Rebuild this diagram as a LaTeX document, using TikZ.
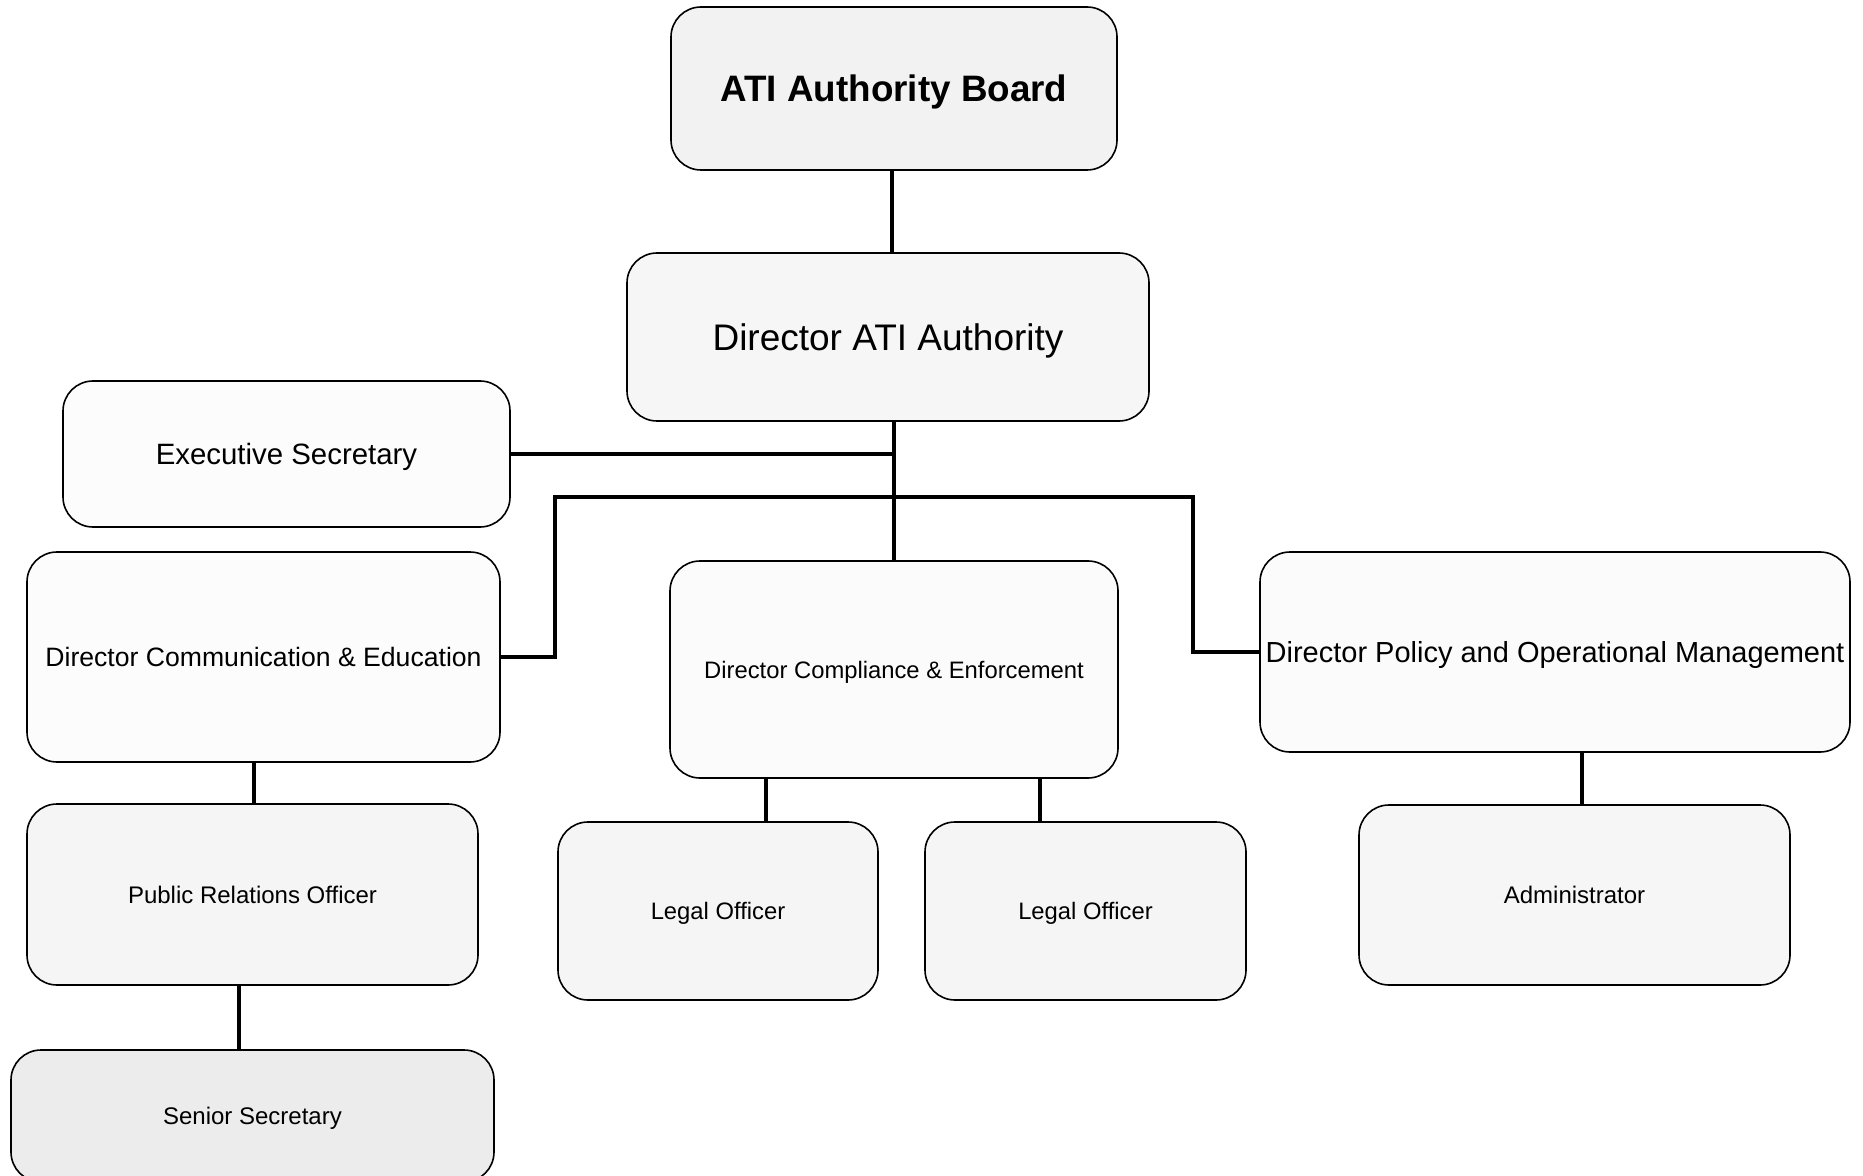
\documentclass[tikz,border=0pt]{standalone}
\usepackage{fontspec}
\setmainfont{Liberation Sans}
\usetikzlibrary{positioning}

\tikzstyle{post}=[draw, line width=0.8pt, rounded corners=15pt, inner sep=1pt, text depth=0pt, align=center]
\tikzstyle{link}=[draw, line width=2pt, -]
\newcommand{\orgunit}{0.5pt}

\begin{document}
\begin{tikzpicture}[x=\orgunit, y=\orgunit]
    \useasboundingbox (0,0) rectangle (1863,-1176);
    % First we draw the posts
    \foreach \pos/\name/\bw/\bh/\fsize/\tone/\txt in {
        {(894,-88.5)/board/223/81.5/18.4/10/\textbf{ATI Authority Board}},
        {(888,-337)/dir/261/84/18.5/7/Director ATI Authority},
        {(286.5,-454)/exec/223.5/73/14.7/2/Executive Secretary},
        {(263.5,-657)/comm/236.5/105/13.3/2/Director Communication \& Education},
        {(894,-669.5)/comp/224/108.5/11.9/3/Director Compliance \& Enforcement},
        {(1555,-652)/policy/295/100/14.5/3/Director Policy and Operational Management},
        {(252.5,-894.5)/pro/225.5/90.5/12/8/Public Relations Officer},
        {(718,-911)/legala/160/89/11.9/8/Legal Officer},
        {(1085.5,-911)/legalb/160.5/89/11.9/8/Legal Officer},
        {(1574.5,-895)/admin/215.5/90/12/7/Administrator},
        {(252.5,-1116)/senior/241.5/66/12/15/Senior Secretary}}
        \node[post, fill=gray!\tone, minimum width=\bw pt, minimum height=\bh pt,
              font=\fontsize{\fsize}{\fsize}\selectfont] (\name) at \pos {\txt};
    % Then the reporting lines
    \foreach \source/\dest/\off in {board/dir/2, dir/comp/0, comm/pro/0.75, policy/admin/3.75}
        \path[link] ([xshift=\off pt]\dest.north |- \source.south) -- ([xshift=\off pt]\dest.north);
    \path[link] (exec.east) -- (exec.east -| comp.north);
    \coordinate (busl) at (555,-497);
    \coordinate (busr) at (1193,-497);
    \path[link] (comm.east) -| (busl) -- (busr) |- (policy.west);
    \path[link] ([xshift=-6.75pt]senior.north |- pro.south) -- ([xshift=-6.75pt]senior.north);
    \path[link] ([xshift=24pt]legala.north |- comp.south) -- ([xshift=24pt]legala.north);
    \path[link] ([xshift=-22.75pt]legalb.north |- comp.south) -- ([xshift=-22.75pt]legalb.north);
\end{tikzpicture}
\end{document}
